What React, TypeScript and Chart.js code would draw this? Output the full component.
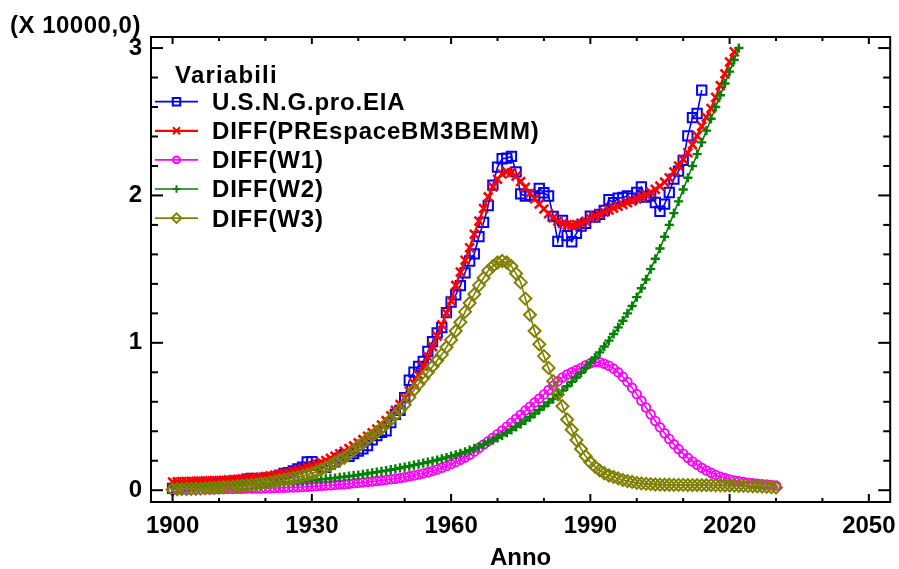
import React, { useEffect, useRef } from "react";
import { Chart, registerables } from "chart.js";
import { drawPoint } from "chart.js/helpers";

Chart.register(...registerables);

// ---- data (values in units of 10000) ----
const START_YEAR = 1900;

const seriesNames = [
  "U.S.N.G.pro.EIA",
  "DIFF(PREspaceBM3BEMM)",
  "DIFF(W1)",
  "DIFF(W2)",
  "DIFF(W3)",
];

// 1900-2014
const usngProEIA = [
  0.013, 0.017, 0.022, 0.026, 0.030, 0.036, 0.039, 0.041, 0.040, 0.048,
  0.051, 0.051, 0.056, 0.058, 0.059, 0.063, 0.075, 0.080, 0.072, 0.075,
  0.081, 0.066, 0.076, 0.101, 0.114, 0.119, 0.131, 0.145, 0.157, 0.192,
  0.194, 0.169, 0.156, 0.156, 0.177, 0.192, 0.217, 0.241, 0.230, 0.248,
  0.266, 0.281, 0.303, 0.342, 0.371, 0.392, 0.403, 0.458, 0.515, 0.542,
  0.628, 0.746, 0.801, 0.840, 0.874, 0.941, 1.008, 1.068, 1.103, 1.205,
  1.277, 1.325, 1.388, 1.475, 1.555, 1.604, 1.721, 1.817, 1.932, 2.070,
  2.192, 2.249, 2.253, 2.265, 2.160, 2.011, 1.995, 2.003, 1.997, 2.047,
  2.018, 1.996, 1.858, 1.688, 1.830, 1.727, 1.686, 1.743, 1.792, 1.810,
  1.859, 1.853, 1.871, 1.898, 1.971, 1.951, 1.981, 1.987, 1.996, 1.981,
  2.020, 2.057, 1.989, 1.997, 1.952, 1.893, 1.941, 2.020, 2.111, 2.165,
  2.238, 2.404, 2.528, 2.556, 2.714,
];

// 1900-2021
const diffPREspace = [
  0.056, 0.057, 0.058, 0.059, 0.060, 0.061, 0.062, 0.063, 0.064, 0.065,
  0.066, 0.068, 0.070, 0.072, 0.074, 0.077, 0.080, 0.083, 0.086, 0.089,
  0.092, 0.097, 0.102, 0.108, 0.114, 0.120, 0.128, 0.136, 0.145, 0.155,
  0.165, 0.177, 0.189, 0.202, 0.216, 0.231, 0.247, 0.264, 0.282, 0.301,
  0.321, 0.343, 0.366, 0.390, 0.415, 0.442, 0.472, 0.505, 0.542, 0.582,
  0.626, 0.674, 0.726, 0.782, 0.842, 0.906, 0.974, 1.046, 1.122, 1.202,
  1.285, 1.390, 1.480, 1.560, 1.645, 1.737, 1.826, 1.911, 1.990, 2.058,
  2.110, 2.145, 2.160, 2.155, 2.130, 2.095, 2.055, 2.015, 1.978, 1.942,
  1.908, 1.876, 1.848, 1.826, 1.810, 1.800, 1.798, 1.802, 1.812, 1.825,
  1.845, 1.860, 1.874, 1.888, 1.901, 1.914, 1.927, 1.939, 1.951, 1.963,
  1.976, 1.990, 2.005, 2.022, 2.041, 2.063, 2.090, 2.120, 2.160, 2.200,
  2.245, 2.290, 2.345, 2.405, 2.470, 2.530, 2.590, 2.665, 2.745, 2.825,
  2.905, 2.975,
];

// 1900-2030
const diffW1 = [
  0.004, 0.004, 0.005, 0.005, 0.005, 0.006, 0.006, 0.006, 0.007, 0.007,
  0.008, 0.008, 0.009, 0.009, 0.010, 0.010, 0.011, 0.011, 0.012, 0.012,
  0.013, 0.014, 0.015, 0.016, 0.017, 0.018, 0.019, 0.020, 0.022, 0.024,
  0.026, 0.028, 0.030, 0.032, 0.034, 0.036, 0.038, 0.041, 0.044, 0.047,
  0.050, 0.053, 0.056, 0.059, 0.062, 0.066, 0.070, 0.074, 0.078, 0.083,
  0.088, 0.094, 0.100, 0.107, 0.114, 0.122, 0.131, 0.141, 0.152, 0.164,
  0.177, 0.191, 0.206, 0.222, 0.240, 0.262, 0.286, 0.310, 0.333, 0.356,
  0.380, 0.405, 0.431, 0.458, 0.485, 0.512, 0.540, 0.567, 0.595, 0.622,
  0.650, 0.680, 0.710, 0.740, 0.765, 0.785, 0.800, 0.815, 0.830, 0.848,
  0.862, 0.870, 0.868, 0.858, 0.845, 0.825, 0.800, 0.770, 0.735, 0.695,
  0.652, 0.607, 0.561, 0.515, 0.470, 0.427, 0.386, 0.348, 0.312, 0.279,
  0.248, 0.220, 0.195, 0.172, 0.152, 0.134, 0.118, 0.104, 0.092, 0.082,
  0.073, 0.066, 0.060, 0.055, 0.051, 0.047, 0.044, 0.041, 0.038, 0.035,
  0.032,
];

// 1900-2022
const diffW2 = [
  0.020, 0.021, 0.022, 0.023, 0.024, 0.025, 0.026, 0.027, 0.028, 0.029,
  0.030, 0.031, 0.032, 0.034, 0.035, 0.036, 0.038, 0.039, 0.041, 0.042,
  0.044, 0.046, 0.048, 0.050, 0.052, 0.054, 0.057, 0.060, 0.062, 0.065,
  0.068, 0.071, 0.074, 0.077, 0.080, 0.083, 0.087, 0.091, 0.095, 0.099,
  0.103, 0.108, 0.113, 0.118, 0.123, 0.128, 0.133, 0.139, 0.145, 0.151,
  0.157, 0.163, 0.170, 0.177, 0.184, 0.190, 0.197, 0.205, 0.213, 0.222,
  0.231, 0.240, 0.250, 0.260, 0.272, 0.284, 0.296, 0.310, 0.324, 0.339,
  0.355, 0.372, 0.390, 0.410, 0.430, 0.450, 0.472, 0.495, 0.520, 0.545,
  0.570, 0.595, 0.620, 0.648, 0.676, 0.705, 0.735, 0.765, 0.797, 0.830,
  0.865, 0.900, 0.935, 0.975, 1.015, 1.060, 1.105, 1.150, 1.200, 1.250,
  1.310, 1.370, 1.430, 1.500, 1.570, 1.640, 1.720, 1.800, 1.880, 1.960,
  2.040, 2.120, 2.200, 2.280, 2.360, 2.440, 2.520, 2.600, 2.680, 2.760,
  2.840, 2.920, 3.000,
];

// 1900-2030
const diffW3 = [
  0.005, 0.006, 0.007, 0.008, 0.009, 0.010, 0.011, 0.013, 0.014, 0.016,
  0.018, 0.020, 0.022, 0.024, 0.027, 0.030, 0.033, 0.036, 0.040, 0.044,
  0.048, 0.053, 0.058, 0.064, 0.070, 0.077, 0.084, 0.090, 0.097, 0.105,
  0.115, 0.125, 0.140, 0.155, 0.170, 0.190, 0.205, 0.220, 0.245, 0.270,
  0.300, 0.320, 0.350, 0.370, 0.395, 0.420, 0.450, 0.480, 0.510, 0.545,
  0.580, 0.630, 0.680, 0.720, 0.760, 0.800, 0.840, 0.880, 0.920, 0.970,
  1.020, 1.080, 1.140, 1.210, 1.270, 1.330, 1.390, 1.440, 1.490, 1.520,
  1.545, 1.555, 1.545, 1.520, 1.470, 1.410, 1.300, 1.190, 1.080, 0.990,
  0.910, 0.830, 0.740, 0.650, 0.570, 0.480, 0.410, 0.340, 0.280, 0.230,
  0.190, 0.160, 0.135, 0.115, 0.100, 0.090, 0.080, 0.070, 0.062, 0.056,
  0.050, 0.046, 0.043, 0.041, 0.039, 0.038, 0.037, 0.037, 0.036, 0.036,
  0.036, 0.035, 0.035, 0.035, 0.034, 0.034, 0.034, 0.033, 0.033, 0.032,
  0.032, 0.031, 0.030, 0.029, 0.028, 0.027, 0.026, 0.025, 0.023, 0.021,
  0.018,
];

// ---- axes ----
const xTickValues = [1900, 1930, 1960, 1990, 2020, 2050];
const xMinorTicks = [
  1900, 1910, 1920, 1930, 1940, 1950, 1960, 1970, 1980, 1990,
  2000, 2010, 2020, 2030, 2040, 2050,
];
const yTickValues = [0, 1, 2, 3];
const yMinorTicks = [
  0, 0.2, 0.4, 0.6, 0.8, 1, 1.2, 1.4, 1.6, 1.8, 2, 2.2, 2.4, 2.6, 2.8, 3,
];
const X_MIN = 1895.35;
const X_MAX = 2054.6;
const Y_MIN = -0.08;
const Y_MAX = 3.075;
const yUnitLabel = "(X 10000,0)";
const xTitle = "Anno";
const legendTitle = "Variabili";

const FONT = '"Liberation Sans", Arial, Helvetica, sans-serif';

const colors = ["#0000ff", "#ff0000", "#ff00ff", "#008000", "#808000"];
const pointStyles = ["rect", "crossRot", "circle", "cross", "rectRot"];
const pointRadii = [6.6, 6.2, 4.3, 4.6, 6];
const pointWidths = [2, 2.6, 1.9, 2.4, 2];

const toPoints = (arr: number[]) =>
  arr.map((v, i) => ({ x: START_YEAR + i, y: v }));

const framePlugin = {
  id: "frameTicksLegend",
  afterDraw(chart: any) {
    const { ctx, chartArea: a } = chart;
    const xs = chart.scales.x;
    const ys = chart.scales.y;
    ctx.save();
    ctx.strokeStyle = "#000";
    ctx.lineWidth = 2;
    ctx.strokeRect(a.left, a.top, a.right - a.left, a.bottom - a.top);
    const line = (x1: number, y1: number, x2: number, y2: number) => {
      ctx.beginPath();
      ctx.moveTo(x1, y1);
      ctx.lineTo(x2, y2);
      ctx.stroke();
    };
    for (const v of xMinorTicks) {
      const px = xs.getPixelForValue(v);
      const major = xTickValues.includes(v);
      line(px, a.bottom, px, a.bottom - (major ? 8 : 4));
      line(px, a.top, px, a.top + (major ? 7 : 4));
    }
    for (const v of yMinorTicks) {
      const py = ys.getPixelForValue(v);
      const major = yTickValues.some((t) => Math.abs(t - v) < 1e-9);
      const len = major ? 12 : 7;
      line(a.left, py, a.left + len, py);
      line(a.right, py, a.right - len, py);
    }

    // texts
    ctx.fillStyle = "#000";
    ctx.font = `bold 24px ${FONT}`;
    ctx.textBaseline = "middle";
    ctx.textAlign = "left";
    (ctx as any).letterSpacing = "0.5px";
    ctx.fillText(yUnitLabel, 10, 26);
    (ctx as any).letterSpacing = "0px";
    ctx.textAlign = "center";
    ctx.fillText(xTitle, (a.left + a.right) / 2, a.bottom + 56);

    // legend
    ctx.textAlign = "left";
    (ctx as any).letterSpacing = "1.2px";
    ctx.fillText(legendTitle, 175, 76);
    (ctx as any).letterSpacing = "0.8px";
    for (let i = 0; i < seriesNames.length; i++) {
      const ly = 101.7 + i * 29.1;
      ctx.strokeStyle = colors[i];
      ctx.lineWidth = i === 1 ? 2.2 : 1.7;
      line(155, ly, 198, ly);
      ctx.fillStyle = "rgba(0,0,0,0)";
      ctx.lineWidth = 2;
      drawPoint(
        ctx,
        { pointStyle: pointStyles[i] as any, radius: pointRadii[i] * 0.8, rotation: 0, borderWidth: 2 } as any,
        176.5,
        ly
      );
      ctx.fillStyle = "#000";
      ctx.fillText(seriesNames[i], 212, ly + 1.8);
    }
    (ctx as any).letterSpacing = "0px";
    ctx.restore();
  },
};

export default function App() {
  const ref = useRef<HTMLCanvasElement | null>(null);

  useEffect(() => {
    document.body.style.margin = "0";
    document.body.style.overflow = "hidden";
    const canvas = ref.current;
    if (!canvas) return;
    const all = [usngProEIA, diffPREspace, diffW1, diffW2, diffW3];
    const orders = [5, 4, 3, 2, 1];
    const datasets = all.map((arr, i) => ({
      label: seriesNames[i],
      data: toPoints(arr),
      borderColor: colors[i],
      borderWidth: i === 1 ? 2.4 : 1.6,
      pointStyle: pointStyles[i],
      pointRadius: pointRadii[i],
      pointBorderWidth: pointWidths[i],
      pointBorderColor: colors[i],
      pointBackgroundColor: "rgba(0,0,0,0)",
      pointHoverRadius: pointRadii[i],
      tension: 0,
      fill: false,
      order: orders[i],
    }));
    const tickFont = { family: FONT, size: 24, weight: "bold" as const };
    const chart = new Chart(canvas, {
      type: "line",
      data: { datasets: datasets as any },
      options: {
        responsive: false,
        animation: false,
        devicePixelRatio: 1,
        layout: { padding: { top: 37, right: 6, left: 0, bottom: 0 } },
        plugins: {
          legend: { display: false },
          tooltip: { enabled: false },
        },
        events: [],
        scales: {
          x: {
            type: "linear",
            min: X_MIN,
            max: X_MAX,
            bounds: "data",
            grid: { display: false, drawTicks: false },
            border: { display: false },
            ticks: {
              font: tickFont,
              color: "#000",
              padding: 10,
              maxRotation: 0,
              autoSkip: false,
              callback: (v: any) => String(v),
            },
            afterBuildTicks: (s: any) => {
              s.ticks = xTickValues.map((v) => ({ value: v }));
            },
            afterFit: (s: any) => {
              s.height = 67;
              s.paddingLeft = 0;
              s.paddingRight = 0;
            },
          },
          y: {
            type: "linear",
            min: Y_MIN,
            max: Y_MAX,
            bounds: "data",
            grid: { display: false, drawTicks: false },
            border: { display: false },
            ticks: {
              font: tickFont,
              color: "#000",
              padding: 9,
              autoSkip: false,
              callback: (v: any) => String(v),
            },
            afterBuildTicks: (s: any) => {
              s.ticks = yTickValues.map((v) => ({ value: v }));
            },
            afterFit: (s: any) => {
              s.width = 151;
              s.paddingTop = 0;
              s.paddingBottom = 0;
            },
          },
        },
      } as any,
      plugins: [framePlugin],
    });
    return () => chart.destroy();
  }, []);

  return (
    <div style={{ width: 899, height: 569, background: "#fff" }}>
      <canvas ref={ref} width={899} height={569} style={{ display: "block" }} />
    </div>
  );
}
